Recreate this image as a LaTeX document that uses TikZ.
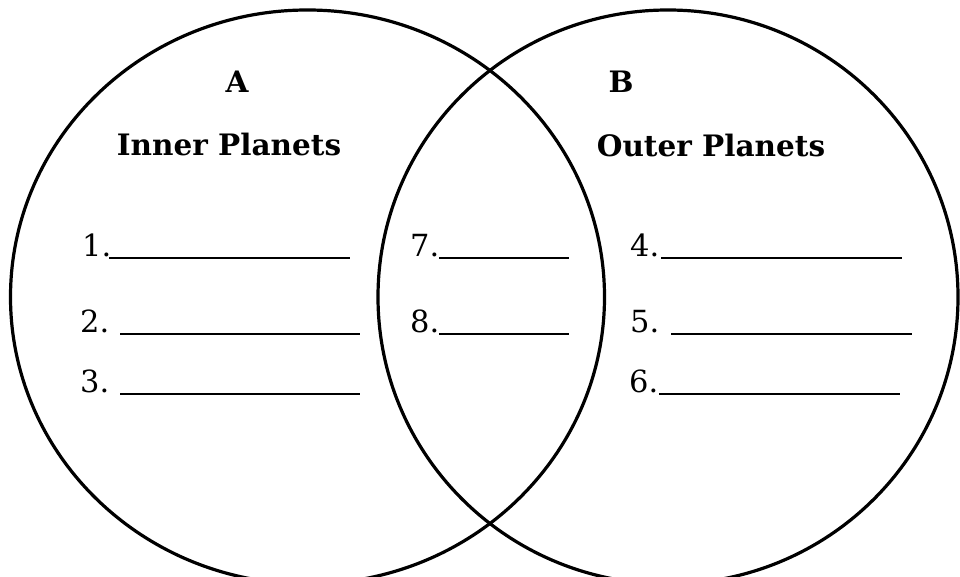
\documentclass[tikz,border=0pt]{standalone}
\usepackage{fontspec}
\setmainfont{DejaVu Serif}
\begin{document}
\begin{tikzpicture}[x=1pt,y=-1pt,
  venn/.style={draw=black,line width=3.2pt},
  title/.style={font=\fontsize{29.5}{34}\selectfont\bfseries,inner sep=0pt,anchor=base},
  num/.style={font=\fontsize{30.5}{36}\selectfont,inner sep=0pt,anchor=base west},
  blank/.style={draw=black,line width=1.4pt}]
\useasboundingbox (0,0) rectangle (960,577);
\clip (0,0) rectangle (960,577);
\fill[white] (0,0) rectangle (960,577);
\draw[venn] (307.5,297) ellipse [x radius=297, y radius=287];
\draw[venn] (668,297) ellipse [x radius=290, y radius=287];
\node[title] (A) at (237,93) {A};
\node[title] (B) at (621,93) {B};
\node[title] (inner) at (229,156) {Inner Planets};
\node[title] (outer) at (711,157) {Outer Planets};
\node[num] (n1) at (82,256) {1.};
\node[num] (n2) at (80,332) {2.};
\node[num] (n3) at (80,392) {3.};
\node[num] (n7) at (410,256) {7.};
\node[num] (n8) at (410,332) {8.};
\node[num] (n4) at (630,256) {4.};
\node[num] (n5) at (630,332) {5.};
\node[num] (n6) at (629,392) {6.};
\coordinate (l1a) at (109,258); \coordinate (l1b) at (350,258);
\coordinate (l2a) at (120,334); \coordinate (l2b) at (360,334);
\coordinate (l3a) at (120,394); \coordinate (l3b) at (360,394);
\coordinate (l7a) at (439,258); \coordinate (l7b) at (569,258);
\coordinate (l8a) at (439,334); \coordinate (l8b) at (569,334);
\coordinate (l4a) at (661,258); \coordinate (l4b) at (902,258);
\coordinate (l5a) at (671,334); \coordinate (l5b) at (912,334);
\coordinate (l6a) at (659,394); \coordinate (l6b) at (900,394);
\foreach \k in {1,2,3,7,8,4,5,6} \draw[blank] (l\k a) -- (l\k b);
\end{tikzpicture}
\end{document}
